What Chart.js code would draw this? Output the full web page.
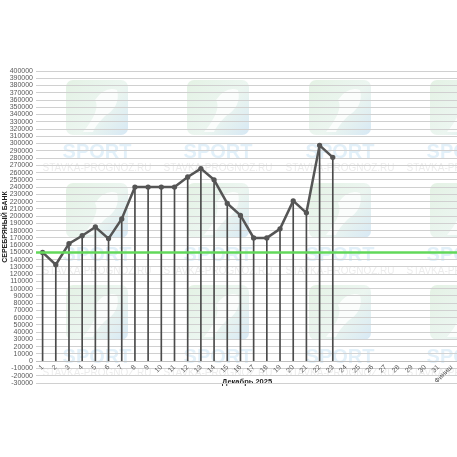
<!DOCTYPE html>
<html>
<head>
<meta charset="utf-8">
<script src="https://cdn.jsdelivr.net/npm/chart.js@4/dist/chart.umd.min.js"></script>
<style>
    html, body { margin: 0; padding: 0; overflow: hidden; background: #fff; }
    #wrap { width: 462px; height: 457px; }
</style>
</head>
<body>
<div id="wrap"><canvas id="chart"></canvas></div>
<script>
const days = ['1', '2', '3', '4', '5', '6', '7', '8', '9', '10', '11', '12', '13', '14', '15', '16',
    '17', '18', '19', '20', '21', '22', '23', '24', '25', '26', '27', '28', '29', '30', '31', 'Финиш'];
const bank = [150000, 133000, 162000, 173000, 185000, 169000, 196000, 240000, 240000, 240000, 240000,
    254000, 265500, 250000, 217500, 201000, 170000, 170000, 182500, 221000, 204500, 297500, 281000];
const startBank = 150000;
const yTitle = 'СЕРЕБРЯНЫЙ БАНК';
const xTitle = 'Декабрь 2025';

const textColor = '#595959';
const fontFamily = '"Liberation Sans", Arial, sans-serif';

const watermark = {
    id: 'watermark',
    beforeDraw: chart => {
        const ctx = chart.ctx;
        ctx.save();
        ctx.fillStyle = '#fff';
        ctx.fillRect(0, 0, chart.width, chart.height);
        [97, 218, 340, 461].forEach(cx => {
            [80, 183, 285].forEach(top => {
                const g = ctx.createLinearGradient(cx - 31, top, cx + 31, top + 55);
                g.addColorStop(0, 'rgba(120, 190, 120, 0.2)');
                g.addColorStop(0.55, 'rgba(120, 190, 150, 0.14)');
                g.addColorStop(1, 'rgba(70, 150, 210, 0.22)');
                ctx.fillStyle = g;
                ctx.beginPath();
                ctx.roundRect(cx - 31, top, 62, 55, 7);
                ctx.fill();
                ctx.fillStyle = 'rgba(255, 255, 255, 0.8)';
                ctx.beginPath();
                ctx.moveTo(cx - 14, top + 52);
                ctx.quadraticCurveTo(cx + 4, top + 30, cx - 2, top + 20);
                ctx.quadraticCurveTo(cx + 8, top + 6, cx + 20, top + 10);
                ctx.quadraticCurveTo(cx + 24, top + 26, cx + 8, top + 36);
                ctx.quadraticCurveTo(cx - 2, top + 46, cx - 4, top + 52);
                ctx.fill();
                ctx.textAlign = 'center';
                ctx.textBaseline = 'middle';
                ctx.fillStyle = 'rgba(110, 180, 225, 0.2)';
                ctx.font = 'bold 20px ' + fontFamily;
                ctx.fillText('SPORT', cx, top + 72);
                ctx.fillStyle = 'rgba(150, 150, 150, 0.18)';
                ctx.font = '10px ' + fontFamily;
                ctx.fillText('STAVKA-PROGNOZ.RU', cx, top + 88);
            });
        });
        ctx.restore();
    }
};

const startLine = {
    id: 'startLine',
    afterDatasetsDraw: chart => {
        const {ctx, chartArea, scales: {y}} = chart;
        const py = y.getPixelForValue(startBank);
        ctx.save();
        ctx.strokeStyle = '#62d85a';
        ctx.lineWidth = 2.5;
        ctx.beginPath();
        ctx.moveTo(chartArea.left, py);
        ctx.lineTo(chartArea.right, py);
        ctx.stroke();
        ctx.restore();
    }
};

new Chart(document.getElementById('chart'), {
    data: {
        labels: days,
        datasets: [
            {
                type: 'line',
                data: bank,
                borderColor: '#555555',
                backgroundColor: '#555555',
                borderWidth: 2.5,
                pointRadius: 1.4,
                pointHoverRadius: 1.4,
                tension: 0,
                order: 0
            },
            {
                type: 'bar',
                data: bank,
                backgroundColor: '#4a4a4a',
                barThickness: 1,
                order: 1
            }
        ]
    },
    plugins: [watermark, startLine],
    options: {
        responsive: true,
        maintainAspectRatio: false,
        animation: false,
        layout: { padding: { top: 71, bottom: 74, left: 0, right: 0 } },
        plugins: {
            legend: { display: false },
            tooltip: { enabled: false }
        },
        scales: {
            x: {
                position: { y: 0 },
                offset: true,
                grid: { display: false, drawTicks: false },
                border: { display: true, color: '#bfbfbf' },
                ticks: {
                    autoSkip: false,
                    minRotation: 45,
                    maxRotation: 45,
                    padding: 2,
                    color: textColor,
                    font: { family: fontFamily, size: 7 }
                },
                title: {
                    display: true,
                    text: xTitle,
                    color: '#222',
                    padding: { top: -10, bottom: 0 },
                    font: { family: fontFamily, size: 7.5, weight: 'bold' }
                }
            },
            y: {
                min: -30000,
                max: 400000,
                afterFit: s => { s.width = 36; },
                grid: { color: '#d0d0d0', lineWidth: 1, drawTicks: false },
                border: { display: false },
                ticks: {
                    stepSize: 10000,
                    autoSkip: false,
                    padding: 3,
                    color: textColor,
                    font: { family: fontFamily, size: 7 },
                    callback: v => String(v)
                },
                title: {
                    display: true,
                    text: yTitle,
                    color: '#222',
                    padding: { top: 1, bottom: 0 },
                    font: { family: fontFamily, size: 7, weight: 'bold' }
                }
            }
        }
    }
});
</script>
</body>
</html>
